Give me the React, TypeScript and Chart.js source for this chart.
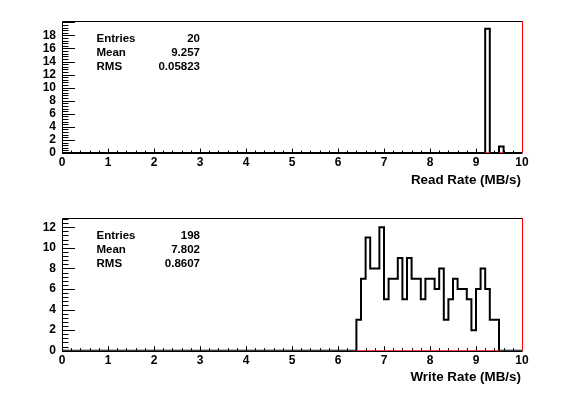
import React, { useEffect, useRef } from 'react';
import { Chart, registerables } from 'chart.js';

Chart.register(...registerables);

const FONT = '"Liberation Sans", Arial, Helvetica, sans-serif';

// Histogram axis: 0–10 MB/s, bins of 0.1 MB/s
const xRange = [0, 10];
const binWidth = 0.1;
const xTicks = [0, 1, 2, 3, 4, 5, 6, 7, 8, 9, 10];
const statNames = ['Entries', 'Mean', 'RMS'];

// Read rate histogram
const readFirstBin = 9.2;
const readCounts = [19, 0, 0, 1];
const readStats = ['20', '9.257', '0.05823'];
const readYTicks = [0, 2, 4, 6, 8, 10, 12, 14, 16, 18];
const readYMax = 20.2;
const readTitle = 'Read Rate (MB/s)';

// Write rate histogram
const writeFirstBin = 6.4;
const writeCounts = [3, 7, 11, 8, 8, 12, 5, 7, 7, 9, 5, 9, 7, 7, 5, 7, 7, 6, 8, 3, 5, 7, 6, 6, 5, 2, 6, 8, 6, 3, 3];
const writeStats = ['198', '7.802', '0.8607'];
const writeYTicks = [0, 2, 4, 6, 8, 10, 12];
const writeYMax = 12.9;
const writeTitle = 'Write Rate (MB/s)';

function histPoints(first: number, counts: number[]) {
  const pts: { x: number; y: number }[] = [{ x: xRange[0], y: 0 }, { x: first, y: 0 }];
  counts.forEach((c, i) => {
    const lo = first + i * binWidth;
    pts.push({ x: lo, y: c }, { x: lo + binWidth, y: c });
  });
  const end = first + counts.length * binWidth;
  pts.push({ x: end, y: 0 }, { x: xRange[1], y: 0 });
  return pts;
}

function baselinePoints(first: number, counts: number[]) {
  const pts: { x: number; y: number | null }[] = [];
  counts.forEach((c, i) => {
    const lo = first + i * binWidth;
    const hi = lo + binWidth;
    if (c > 0) {
      pts.push({ x: lo, y: 0 }, { x: hi, y: 0 });
    } else {
      pts.push({ x: lo + binWidth / 2, y: null });
    }
  });
  return pts;
}

type Layout = {
  height: number;
  frameTop: number;
  frameBottom: number;
  frameLeft: number;
  frameRight: number;
  titleY: number;
  statsY: number[];
  xLabelPad: number;
};

const rootPlugin = {
  id: 'rootFrame',
  beforeDatasetsDraw(chart: any) {
    const { ctx, chartArea: a, scales } = chart;
    const xs = scales.x;
    const ys = scales.y;
    const r = (v: number) => Math.round(v) + 0.5;
    ctx.save();
    ctx.strokeStyle = '#000';
    ctx.lineWidth = 1;
    ctx.beginPath();
    ctx.moveTo(r(a.right), r(a.top));
    ctx.lineTo(r(a.left), r(a.top));
    ctx.lineTo(r(a.left), r(a.bottom));
    ctx.lineTo(r(a.right), r(a.bottom));
    ctx.stroke();
    // y ticks (inside)
    ctx.beginPath();
    const yMinor = 0.4;
    for (let k = 0; k * yMinor <= ys.max + 1e-9; k++) {
      const v = k * yMinor;
      const py = r(ys.getPixelForValue(v));
      const len = k % 5 === 0 ? 13 : 6.5;
      ctx.moveTo(a.left, py);
      ctx.lineTo(a.left + len, py);
    }
    // x ticks (inside)
    const xMinor = 0.2;
    for (let k = 0; k * xMinor <= xs.max + 1e-9; k++) {
      const v = k * xMinor;
      const px = r(xs.getPixelForValue(v));
      const len = k % 5 === 0 ? 4.5 : 2.5;
      ctx.moveTo(px, a.bottom);
      ctx.lineTo(px, a.bottom - len);
    }
    ctx.stroke();
    ctx.strokeStyle = '#ff0000';
    ctx.beginPath();
    ctx.moveTo(r(a.right), a.top);
    ctx.lineTo(r(a.right), a.bottom);
    ctx.stroke();
    ctx.restore();
  },
  afterDraw(chart: any, _args: any, opts: any) {
    const { ctx } = chart;
    ctx.save();
    ctx.fillStyle = '#000';
    ctx.textBaseline = 'middle';
    ctx.font = `bold 11.5px ${FONT}`;
    opts.names.forEach((n: string, i: number) => {
      ctx.textAlign = 'left';
      ctx.fillText(n, 96.5, opts.statsY[i]);
      ctx.textAlign = 'right';
      ctx.fillText(opts.values[i], 200, opts.statsY[i]);
    });
    ctx.font = `bold 13.4px ${FONT}`;
    ctx.textAlign = 'right';
    ctx.fillText(opts.title, 521, opts.titleY);
    ctx.restore();
  },
};

function Hist(props: {
  first: number;
  counts: number[];
  yTicks: number[];
  yMax: number;
  stats: string[];
  title: string;
  layout: Layout;
}) {
  const ref = useRef<HTMLCanvasElement>(null);
  const { first, counts, yTicks, yMax, stats, title, layout } = props;
  useEffect(() => {
    if (!ref.current) return;
    const tickFont = { family: FONT, size: 12, weight: 'bold' as const };
    const chart = new Chart(ref.current, {
      type: 'line',
      data: {
        datasets: [
          {
            data: baselinePoints(first, counts) as any,
            borderColor: '#ff0000',
            borderWidth: 1.5,
            pointRadius: 0,
            fill: false,
            spanGaps: false,
          },
          {
            data: histPoints(first, counts) as any,
            borderColor: '#000000',
            borderWidth: 2,
            pointRadius: 0,
            fill: false,
            tension: 0,
          },
        ],
      },
      options: {
        animation: false,
        responsive: false,
        maintainAspectRatio: false,
        events: [],
        layout: {
          padding: { top: layout.frameTop, right: 587 - layout.frameRight, left: 0, bottom: 0 },
        },
        plugins: {
          legend: { display: false },
          tooltip: { enabled: false },
          rootFrame: { names: statNames, values: stats, title, titleY: layout.titleY, statsY: layout.statsY },
        } as any,
        scales: {
          x: {
            type: 'linear',
            min: xRange[0],
            max: xRange[1],
            grid: { display: false, drawTicks: false },
            border: { display: false },
            afterBuildTicks: (s: any) => {
              s.ticks = xTicks.map((v) => ({ value: v }));
            },
            afterFit: (s: any) => {
              s.height = layout.height - layout.frameBottom;
            },
            ticks: { font: tickFont, color: '#000', padding: layout.xLabelPad, maxRotation: 0, autoSkip: false },
          },
          y: {
            type: 'linear',
            min: 0,
            max: yMax,
            grid: { display: false, drawTicks: false },
            border: { display: false },
            afterBuildTicks: (s: any) => {
              s.ticks = yTicks.map((v) => ({ value: v }));
            },
            afterFit: (s: any) => {
              s.width = layout.frameLeft;
            },
            ticks: { font: tickFont, color: '#000', padding: 6, autoSkip: false },
          },
        },
      },
      plugins: [rootPlugin as any],
    });
    return () => chart.destroy();
  }, []);
  return <canvas ref={ref} width={587} height={layout.height} style={{ display: 'block', width: 587, height: layout.height }} />;
}

const topLayout: Layout = {
  height: 197,
  frameTop: 21,
  frameBottom: 153,
  frameLeft: 62,
  frameRight: 522,
  titleY: 180,
  statsY: [39, 53, 67],
  xLabelPad: 2,
};
const bottomLayout: Layout = {
  height: 197,
  frameTop: 21,
  frameBottom: 153.7,
  frameLeft: 62,
  frameRight: 522,
  titleY: 180,
  statsY: [39, 53, 67],
  xLabelPad: 3,
};

export default function App() {
  return (
    <div style={{ position: 'absolute', left: 0, top: 0, width: 587, height: 394, background: '#fff' }}>
      <Hist first={readFirstBin} counts={readCounts} yTicks={readYTicks} yMax={readYMax} stats={readStats} title={readTitle} layout={topLayout} />
      <Hist first={writeFirstBin} counts={writeCounts} yTicks={writeYTicks} yMax={writeYMax} stats={writeStats} title={writeTitle} layout={bottomLayout} />
    </div>
  );
}
